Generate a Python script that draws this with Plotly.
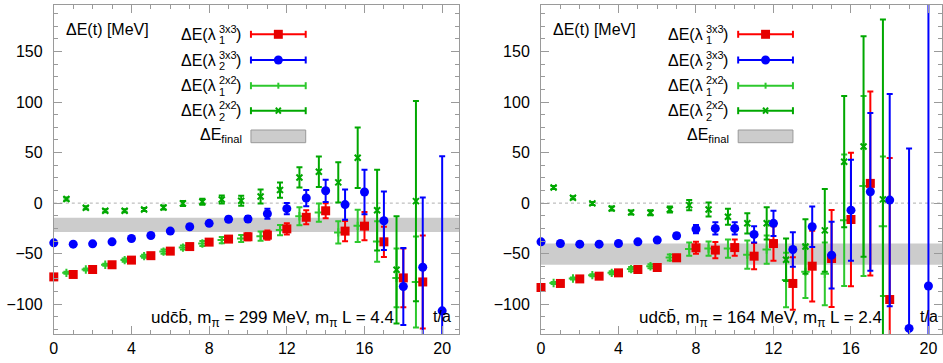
import plotly.graph_objects as go

# ---------------- data ----------------
# left panel: m_pi = 299 MeV
t_L_red = list(range(0, 20))
red_L = [-73, -70.6, -65.7, -61, -56.4, -52, -47.5, -43, -38.6, -35.6, -33.3, -31.7, -25.5, -14, -7.6, -27.7, -22.8, -38.3, -74, -78]
red_L_err = [2, 2, 2, 2, 2, 2, 2, 2, 2.5, 3, 3.5, 4.5, 5.5, 7, 7.5, 10, 14, 15, 29, 46]
t_L_blue = list(range(0, 21))
blue_L = [-39.3, -40.6, -40.3, -38.3, -35, -32, -27.7, -23.4, -20, -16, -15.7, -10.5, -5.5, 5, 12.2, -1.5, 11, -17.5, -82.5, -63.5, -106.6]
blue_L_err = [1.5, 1.5, 1.5, 1.5, 1.5, 1.5, 1.5, 2, 2, 2.5, 3, 5, 5.5, 8, 11, 15, 22, 29, 38, 69, 153]
t_L_green = [t - 0.35 for t in range(1, 20)]
g1_L = [-69, -65.7, -61, -56.4, -52.5, -48, -44, -40, -36.6, -35, -32.7, -26.7, -13, -9.4, -29, -22.5, -38, -74, -78]
g1_L_err = [1, 1, 1, 1.5, 1.5, 2, 2, 2.5, 3, 3.5, 4.5, 5, 9, 9, 11, 16, 20, 29, 45]
g2_L = [4, -4.6, -7.6, -7.6, -6.3, -4.3, -0.3, 1.3, 3.6, 2.3, 6.5, 12.9, 25.4, 31, 20.5, 44.9, -7, -66, 2]
g2_L_err = [1.5, 1.5, 1.5, 1.5, 1.5, 2, 2.5, 3, 4, 5, 7, 7.5, 10, 15, 20, 30, 40, 53, 99]
band_L = (-28.5, -14.5)

# right panel: m_pi = 164 MeV
t_R_red = list(range(0, 19))
red_R = [-83.5, -79.5, -75, -72.3, -69, -65.7, -63.7, -54.1, -44.2, -46.5, -44, -52.5, -40, -79.5, -62.4, -54.8, -16.2, 19.5, -95.4]
red_R_err = [2, 2, 2, 2, 2, 2, 2, 3, 6, 8, 8, 13, 17, 26, 35, 48, 66, 91, 140]
t_R_blue = list(range(0, 21))
blue_R = [-38.3, -40, -40.6, -40.6, -40, -38.3, -36.6, -32.3, -25.7, -25, -25, -31, -20, -45.9, -23.4, -51.5, -7, 11.2, 3, -124, -82]
blue_R_err = [1.5, 1.5, 1.5, 1.5, 1.5, 1.5, 2, 2.5, 4, 6, 6, 8, 12.5, 17, 20, 33, 50, 78, 105, 178, 300]
t_R_green = [t - 0.35 for t in range(1, 19)]
g1_R = [-79, -74.6, -71.3, -69, -65.3, -62.4, -53.8, -45.5, -45, -45, -51, -46, -76, -68, -70, -17, 17, -23]
g1_R_err = [1, 1, 1, 1.5, 2, 2, 3, 6.5, 7, 9, 14, 14, 27, 26, 31, 65, 89, 69]
g2_R = [15.5, 5.3, -0.3, -5.3, -9.2, -9.6, -6.3, -2, -6.3, -13.5, -20, -20, -56, -43, -27, 41, 56, 3.7]
g2_R_err = [1.5, 1.5, 1.5, 2, 2, 2.5, 3, 5, 7, 8, 10, 16, 21, 27, 41, 65, 109, 178]
band_R = (-61, -40)

x_ticks = [0, 4, 8, 12, 16, 20]
y_ticks = [-100, -50, 0, 50, 100, 150]
labels_L = "udc\u0304b\u0304, m<sub>\u03c0</sub> = 299 MeV, m<sub>\u03c0</sub> L = 4.4"
labels_R = "udc\u0304b\u0304, m<sub>\u03c0</sub> = 164 MeV, m<sub>\u03c0</sub> L = 2.4"

# ---------------- style ----------------
W, H = 943, 363
RED, BLUE, G1, G2 = "#ff0000", "#0000ff", "#2dc82d", "#00a800"
FRAME = "#9a9a9a"
FONT = "Liberation Sans, Arial, sans-serif"


def X(px):
    return px / W


def Y(py):
    return 1 - py / H


fig = go.Figure()


def add_series(xa, ya, xs, ys, errs, color, symbol, size, mcolor=None, lw=0):
    fig.add_trace(go.Scatter(
        x=xs, y=ys, mode="markers", xaxis=xa, yaxis=ya, showlegend=False,
        marker=dict(size=1, opacity=0),
        error_y=dict(type="data", array=errs, color=color, thickness=2, width=3),
        cliponaxis=True, hoverinfo="skip"))
    fig.add_trace(go.Scatter(
        x=xs, y=ys, mode="markers", xaxis=xa, yaxis=ya, showlegend=False,
        marker=dict(size=size, symbol=symbol, color=mcolor or color,
                    line=dict(width=lw, color=mcolor or color)),
        cliponaxis=False))


panels = [
    ("x", "y", t_L_red, red_L, red_L_err, t_L_blue, blue_L, blue_L_err,
     t_L_green, g1_L, g1_L_err, g2_L, g2_L_err, band_L, labels_L, 0.0),
    ("x2", "y2", t_R_red, red_R, red_R_err, t_R_blue, blue_R, blue_R_err,
     t_R_green, g1_R, g1_R_err, g2_R, g2_R_err, band_R, labels_R, 489.3),
]

shapes = []
annotations = []

for (xa, ya, tr, r, re, tb, b, be, tg, g1, g1e, g2, g2e, band, lab, ox) in panels:
    add_series(xa, ya, tg, g1, g1e, G1, "cross-thin", 6, lw=2)
    add_series(xa, ya, tg, g2, g2e, G2, "x-thin", 6, lw=2)
    add_series(xa, ya, tr, r, re, RED, "square", 9, mcolor="#e60000")
    add_series(xa, ya, tb, b, be, BLUE, "circle", 9)

    xd = xa + " domain"
    # final band
    shapes.append(dict(type="rect", xref=xd, yref=ya, x0=0, x1=1, y0=band[0], y1=band[1],
                       fillcolor="#cccccc", line=dict(width=0), layer="below"))
    # zero line
    shapes.append(dict(type="line", xref=xd, yref=ya, x0=0, x1=1, y0=0, y1=0,
                       line=dict(color="#b0b0b0", width=1, dash="dot"), layer="below"))

    # legend samples
    rows = [34.3, 60, 85.7, 110.7]
    cols = [RED, BLUE, G1, G2]
    sups = ["3x3", "3x3", "2x2", "2x2"]
    subs = ["1", "2", "1", "2"]
    lx0, lx1, lxc = 248 + ox, 303 + ox, 275.5 + ox
    for ry, c, sp, sb in zip(rows, cols, sups, subs):
        shapes.append(dict(type="line", xref="paper", yref="paper", x0=X(lx0), x1=X(lx1),
                           y0=Y(ry), y1=Y(ry), line=dict(color=c, width=2)))
        for cx in (lx0, lx1):
            shapes.append(dict(type="line", xref="paper", yref="paper", x0=X(cx), x1=X(cx),
                               y0=Y(ry - 3.5), y1=Y(ry + 3.5), line=dict(color=c, width=2)))
        annotations.append(dict(xref="paper", yref="paper", x=X(215 + ox), y=Y(ry),
                                xanchor="right", yanchor="middle", showarrow=False,
                                text="\u0394E(\u03bb", font=dict(size=16, family=FONT, color="black")))
        annotations.append(dict(xref="paper", yref="paper", x=X(214 + ox), y=Y(ry - 5.5),
                                xanchor="left", yanchor="middle", showarrow=False,
                                text=sp, font=dict(size=11, family=FONT, color="black")))
        annotations.append(dict(xref="paper", yref="paper", x=X(214 + ox), y=Y(ry + 6),
                                xanchor="left", yanchor="middle", showarrow=False,
                                text=sb, font=dict(size=11, family=FONT, color="black")))
        annotations.append(dict(xref="paper", yref="paper", x=X(231 + ox), y=Y(ry),
                                xanchor="left", yanchor="middle", showarrow=False,
                                text=")", font=dict(size=16, family=FONT, color="black")))
    # markers in legend
    ry = rows[0]
    shapes.append(dict(type="rect", xref="paper", yref="paper", x0=X(lxc - 4.5), x1=X(lxc + 4.5),
                       y0=Y(ry - 4.5), y1=Y(ry + 4.5), fillcolor="#e60000", line=dict(width=0)))
    ry = rows[1]
    shapes.append(dict(type="circle", xref="paper", yref="paper", x0=X(lxc - 4.5), x1=X(lxc + 4.5),
                       y0=Y(ry - 4.5), y1=Y(ry + 4.5), fillcolor=BLUE, line=dict(width=0)))
    ry = rows[2]
    shapes.append(dict(type="line", xref="paper", yref="paper", x0=X(lxc), x1=X(lxc),
                       y0=Y(ry - 3), y1=Y(ry + 3), line=dict(color=G1, width=2)))
    ry = rows[3]
    for d in (1, -1):
        shapes.append(dict(type="line", xref="paper", yref="paper", x0=X(lxc - 2.5), x1=X(lxc + 2.5),
                           y0=Y(ry - 3 * d), y1=Y(ry + 3 * d), line=dict(color=G2, width=2)))
    # final band sample
    shapes.append(dict(type="rect", xref="paper", yref="paper", x0=X(lx0), x1=X(lx1),
                       y0=Y(130), y1=Y(142.7), fillcolor="#cccccc", line=dict(color="#999999", width=1)))
    annotations.append(dict(xref="paper", yref="paper", x=X(241 + ox), y=Y(135),
                            xanchor="right", yanchor="middle", showarrow=False,
                            text="\u0394E<sub>final</sub>", font=dict(size=16, family=FONT, color="black")))
    # titles
    annotations.append(dict(xref="paper", yref="paper", x=X(60 + ox), y=Y(29),
                            xanchor="left", yanchor="middle", showarrow=False,
                            text="\u0394E(t) [MeV]", font=dict(size=16, family=FONT, color="black")))
    annotations.append(dict(xref="paper", yref="paper", x=X(394 + ox), y=Y(319),
                            xanchor="right", yanchor="middle", showarrow=False,
                            text=lab, font=dict(size=17, family=FONT, color="black")))
    annotations.append(dict(xref="paper", yref="paper", x=X(429 + ox), y=Y(316),
                            xanchor="left", yanchor="middle", showarrow=False,
                            text="t/a", font=dict(size=16, family=FONT, color="black")))

axis_common = dict(showline=True, linecolor=FRAME, linewidth=1, mirror="ticks",
                   ticks="inside", ticklen=8, tickwidth=1, tickcolor=FRAME,
                   showgrid=False, zeroline=False,
                   tickfont=dict(size=16, color="black", family=FONT))

xdom_L = [X(50), X(457)]
xdom_R = [X(539.3), X(942)]
ydom = [Y(334), Y(5)]

fig.update_layout(
    width=W, height=H, margin=dict(l=0, r=0, t=0, b=0),
    paper_bgcolor="white", plot_bgcolor="white", showlegend=False,
    xaxis=dict(axis_common, domain=xdom_L, range=[0, 20.87], anchor="y",
               tickvals=x_ticks, ticklabelstandoff=0,
               minor=dict(dtick=1, tick0=0, ticks="inside", ticklen=4, tickcolor=FRAME)),
    yaxis=dict(axis_common, domain=ydom, range=[-129.5, 196], anchor="x",
               tickvals=y_ticks, ticklabelstandoff=7,
               minor=dict(dtick=12.5, tick0=0, ticks="inside", ticklen=4, tickcolor=FRAME)),
    xaxis2=dict(axis_common, domain=xdom_R, range=[0, 20.7], anchor="y2",
                tickvals=x_ticks, ticklabelstandoff=0,
                minor=dict(dtick=1, tick0=0, ticks="inside", ticklen=4, tickcolor=FRAME)),
    yaxis2=dict(axis_common, domain=ydom, range=[-129.5, 196], anchor="x2",
                tickvals=y_ticks, ticklabelstandoff=7,
                minor=dict(dtick=12.5, tick0=0, ticks="inside", ticklen=4, tickcolor=FRAME)),
    shapes=shapes, annotations=annotations,
)

fig.write_html("out.html", config={"displayModeBar": False},
               post_script="document.body.style.margin='0px';document.body.style.overflow='hidden';")
